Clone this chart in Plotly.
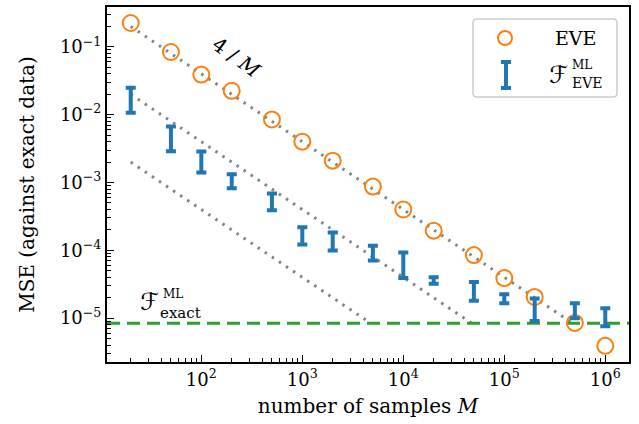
import plotly.graph_objects as go

# ---------------- data ----------------
M = [20, 50, 100, 200, 500, 1000, 2000, 5000, 1e4, 2e4, 5e4, 1e5, 2e5, 5e5, 1e6]
mse_eve = [0.225, 0.084, 0.039, 0.0225, 0.0085, 0.0040, 0.0021, 0.00087, 0.00040,
           0.000195, 8.5e-5, 3.9e-5, 2.05e-5, 8.5e-6, 3.9e-6]
mse_ml_eve = [0.0178, 0.0048, 0.00213, 0.00107, 0.00054, 0.00017, 0.000141, 9.4e-5,
              6.6e-5, 3.6e-5, 2.6e-5, 1.95e-5, 1.43e-5, 1.33e-5, 1.08e-5]
err_ml_eve = [0.0071, 0.0019, 0.00073, 0.00025, 0.00015, 4.8e-5, 4.2e-5, 2.3e-5,
              2.7e-5, 0.4e-5, 0.8e-5, 0.29e-5, 0.52e-5, 0.33e-5, 0.32e-5]
mse_ml_exact = 8.4e-6
ref_coeffs = [4, 0.4, 0.04]   # c / M reference lines
x_tick_vals = [1e2, 1e3, 1e4, 1e5, 1e6]
x_tick_text = ["10<sup>2</sup>", "10<sup>3</sup>", "10<sup>4</sup>", "10<sup>5</sup>", "10<sup>6</sup>"]
y_tick_vals = [1e-1, 1e-2, 1e-3, 1e-4, 1e-5]
y_tick_text = ["10<sup>−1</sup>", "10<sup>−2</sup>", "10<sup>−3</sup>", "10<sup>−4</sup>", "10<sup>−5</sup>"]

# ---------------- layout geometry ----------------
W, H = 639, 424
L, R, T, B = 107, 629, 7, 362
XR = [1.066, 6.235]
YR = [-5.647, -0.412]
FONT = "DejaVu Serif"
SCRIPT_FONT = "DejaVu Sans"
ORANGE = "#ff7f0e"
BLUE = "#1f77b4"
GREEN = "#2ca02c"


def px(x):
    return (x - L) / (R - L)


def py(y):
    return (B - y) / (B - T)


fig = go.Figure()

# reference lines c/M
for c in ref_coeffs:
    fig.add_trace(go.Scatter(
        x=[M[0], c / mse_ml_exact], y=[c / M[0], mse_ml_exact], mode="lines",
        line=dict(color="rgba(110,110,110,0.85)", width=3, dash="2.5px,6px"),
        showlegend=False, hoverinfo="skip"))

# exact ML floor
fig.add_trace(go.Scatter(
    x=[10 ** XR[0], 10 ** XR[1]], y=[mse_ml_exact, mse_ml_exact], mode="lines",
    line=dict(color=GREEN, width=3, dash="13px,7px"), showlegend=False, hoverinfo="skip"))

# EVE circles
fig.add_trace(go.Scatter(
    x=M, y=mse_eve, mode="markers", name="EVE",
    marker=dict(symbol="circle-open", size=16, color=ORANGE, line=dict(width=2, color=ORANGE)),
    showlegend=False))

# ML EVE error bars
fig.add_trace(go.Scatter(
    x=M, y=mse_ml_eve, mode="markers", name="F_EVE^ML",
    marker=dict(size=1, color="rgba(0,0,0,0)"),
    error_y=dict(type="data", array=err_ml_eve, symmetric=True, color=BLUE,
                 thickness=4, width=5),
    showlegend=False))

axis_common = dict(
    type="log", showgrid=False, zeroline=False, ticks="inside", ticklen=7, tickwidth=1.2,
    tickcolor="black", showline=True, linecolor="black", linewidth=2, mirror=True,
    automargin=False,
    tickfont=dict(family=FONT, size=18, color="black"),
    minor=dict(ticks="inside", ticklen=4, tickwidth=1, tickcolor="black", dtick="D1", showgrid=False),
)

fig.update_layout(
    width=W, height=H,
    margin=dict(l=L, r=W - R, t=T, b=H - B, autoexpand=False),
    paper_bgcolor="white", plot_bgcolor="white",
    xaxis=dict(**axis_common, range=XR, tickvals=x_tick_vals, ticktext=x_tick_text,
               title=dict(text="number of samples <i>M</i>", font=dict(family=FONT, size=20, color="black"),
                          standoff=10)),
    yaxis=dict(**axis_common, range=YR, tickvals=y_tick_vals, ticktext=y_tick_text,
               title=dict(text="MSE (against exact data)", font=dict(family=FONT, size=20, color="black"),
                          standoff=20)),
    showlegend=False,
)


def label(x, y, text, size, family=FONT, angle=0):
    return dict(x=px(x), y=py(y), xref="paper", yref="paper", text=text, textangle=angle,
                xanchor="center", yanchor="middle", showarrow=False,
                font=dict(family=family, size=size, color="black"))


ann = []
# 4/M label
ann.append(label(236, 57, "4 / <i>M</i>", 20, angle=36))
# F_exact^ML label
ann.append(label(149, 302, "ℱ", 24, family=SCRIPT_FONT))
ann.append(label(173, 294, "ML", 12))
ann.append(label(180, 313, "exact", 15))

# custom legend
shapes = []
bx0, bx1, by0, by1 = px(473), px(617), py(97), py(19)
rx, ry = 4 / (R - L), 4 / (B - T)
path = (f"M {bx0+rx},{by0} L {bx1-rx},{by0} Q {bx1},{by0} {bx1},{by0+ry} "
        f"L {bx1},{by1-ry} Q {bx1},{by1} {bx1-rx},{by1} L {bx0+rx},{by1} "
        f"Q {bx0},{by1} {bx0},{by1-ry} L {bx0},{by0+ry} Q {bx0},{by0} {bx0+rx},{by0} Z")
shapes.append(dict(type="path", path=path, xref="paper", yref="paper",
                   line=dict(color="#cccccc", width=1.5), fillcolor="rgba(255,255,255,0.85)"))
shapes.append(dict(type="circle", xref="paper", yref="paper",
                   x0=px(498), x1=px(512), y0=py(45), y1=py(31),
                   line=dict(color=ORANGE, width=2)))
shapes.append(dict(type="line", xref="paper", yref="paper", x0=px(506), x1=px(506),
                   y0=py(62), y1=py(88), line=dict(color=BLUE, width=4)))
for yy in (62, 88):
    shapes.append(dict(type="line", xref="paper", yref="paper", x0=px(501), x1=px(511),
                       y0=py(yy), y1=py(yy), line=dict(color=BLUE, width=4)))
fig.update_layout(shapes=shapes)

ann.append(label(575, 38, "EVE", 19))
ann.append(label(558, 75, "ℱ", 24, family=SCRIPT_FONT))
ann.append(label(582, 65, "ML", 12))
ann.append(label(587, 83, "EVE", 14))
fig.update_layout(annotations=ann)

fig.write_html("out.html", config={"displayModeBar": False},
               post_script="document.body.style.margin='0px';")
